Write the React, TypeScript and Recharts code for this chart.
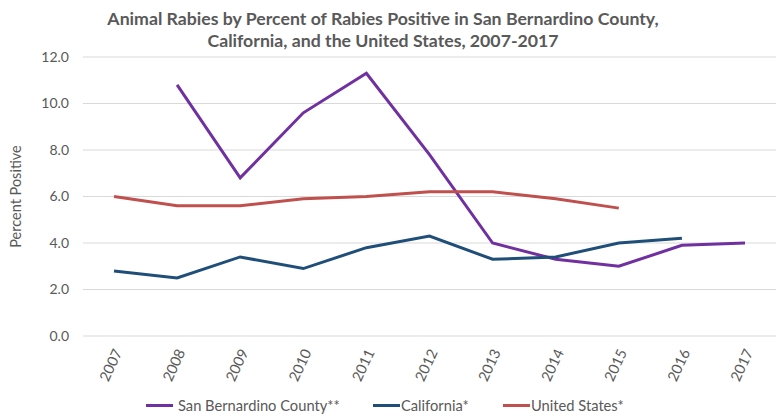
import React from 'react';
import { LineChart, Line, XAxis, YAxis, CartesianGrid, Legend, Label } from 'recharts';

// Years on the category axis
const years = ['2007', '2008', '2009', '2010', '2011', '2012', '2013', '2014', '2015', '2016', '2017'];

// Percent positive (null = no point that year)
const sanBernardino = [null, 10.8, 6.8, 9.6, 11.3, 7.8, 4.0, 3.3, 3.0, 3.9, 4.0];
const california = [2.8, 2.5, 3.4, 2.9, 3.8, 4.3, 3.3, 3.4, 4.0, 4.2, null];
const unitedStates = [6.0, 5.6, 5.6, 5.9, 6.0, 6.2, 6.2, 5.9, 5.5, null, null];

const yTicks = [0, 2, 4, 6, 8, 10, 12];

const seriesInfo = [
    { key: 'sb', name: 'San Bernardino County**', color: '#7030A0' },
    { key: 'ca', name: 'California*', color: '#1F4E79' },
    { key: 'us', name: 'United States*', color: '#C0504D' },
];

const data = years.map((year, i) => ({
    year,
    sb: sanBernardino[i],
    ca: california[i],
    us: unitedStates[i],
}));

const FONT = 'Lato, "Open Sans", sans-serif';
const TEXT = '#595959';

const YearTick = (props: any) => {
    const { x, y, payload } = props;
    return (
        <text
            transform={`translate(${x + 4},${y + 6}) rotate(-65)`}
            textAnchor="end"
            fill={TEXT}
            fontSize={14.5}
            fontFamily={FONT}
            dy={5}
        >
            {payload.value}
        </text>
    );
};

const LegendRow = () => (
    <div style={{ position: 'relative', height: 25, fontFamily: FONT, fontSize: 14.7, color: TEXT }}>
        {seriesInfo.map((s, i) => {
            const lefts = [146, 373, 503];
            return (
                <div key={s.key} style={{ position: 'absolute', left: lefts[i], top: 3, display: 'flex', alignItems: 'center', whiteSpace: 'nowrap' }}>
                    <span style={{ display: 'inline-block', width: 27, height: 3, background: s.color, marginRight: i === 0 ? 5 : 1 }} />
                    <span>{s.name}</span>
                </div>
            );
        })}
    </div>
);

export default function App() {
    return (
        <div style={{ position: 'absolute', left: 0, top: 0, width: 776, height: 418, background: '#fff' }}>
            <div
                style={{
                    position: 'absolute',
                    left: 12,
                    top: 8,
                    width: 742,
                    textAlign: 'center',
                    fontFamily: FONT,
                    fontWeight: 700,
                    fontSize: 17.7,
                    lineHeight: '22px',
                    color: TEXT,
                }}
            >
                Animal Rabies by Percent of Rabies Positive in San Bernardino County,
                <br />
                California, and the United States, 2007-2017
            </div>
            <LineChart width={776} height={418} data={data} margin={{ top: 57, right: 0, left: 0, bottom: 0 }}>
                <CartesianGrid vertical={false} stroke="#D9D9D9" strokeWidth={1} />
                <XAxis
                    dataKey="year"
                    axisLine={false}
                    tickLine={false}
                    interval={0}
                    height={57}
                    padding={{ left: 31, right: 31 }}
                    tick={<YearTick />}
                />
                <YAxis
                    domain={[0, 12]}
                    ticks={yTicks}
                    width={83}
                    axisLine={false}
                    tickLine={false}
                    tickFormatter={(v: number) => v.toFixed(1)}
                    tick={{ fill: TEXT, fontSize: 14, fontFamily: FONT }}
                    tickMargin={8}
                >
                    <Label
                        value="Percent Positive"
                        angle={-90}
                        position="insideLeft"
                        offset={16}
                        style={{ fill: TEXT, fontSize: 14.5, fontFamily: FONT, textAnchor: 'middle' }}
                    />
                </YAxis>
                {seriesInfo.map((s) => (
                    <Line
                        key={s.key}
                        type="linear"
                        dataKey={s.key}
                        name={s.name}
                        stroke={s.color}
                        strokeWidth={3}
                        dot={false}
                        activeDot={false}
                        isAnimationActive={false}
                    />
                ))}
                <Legend verticalAlign="bottom" height={25} content={<LegendRow />} />
            </LineChart>
        </div>
    );
}
